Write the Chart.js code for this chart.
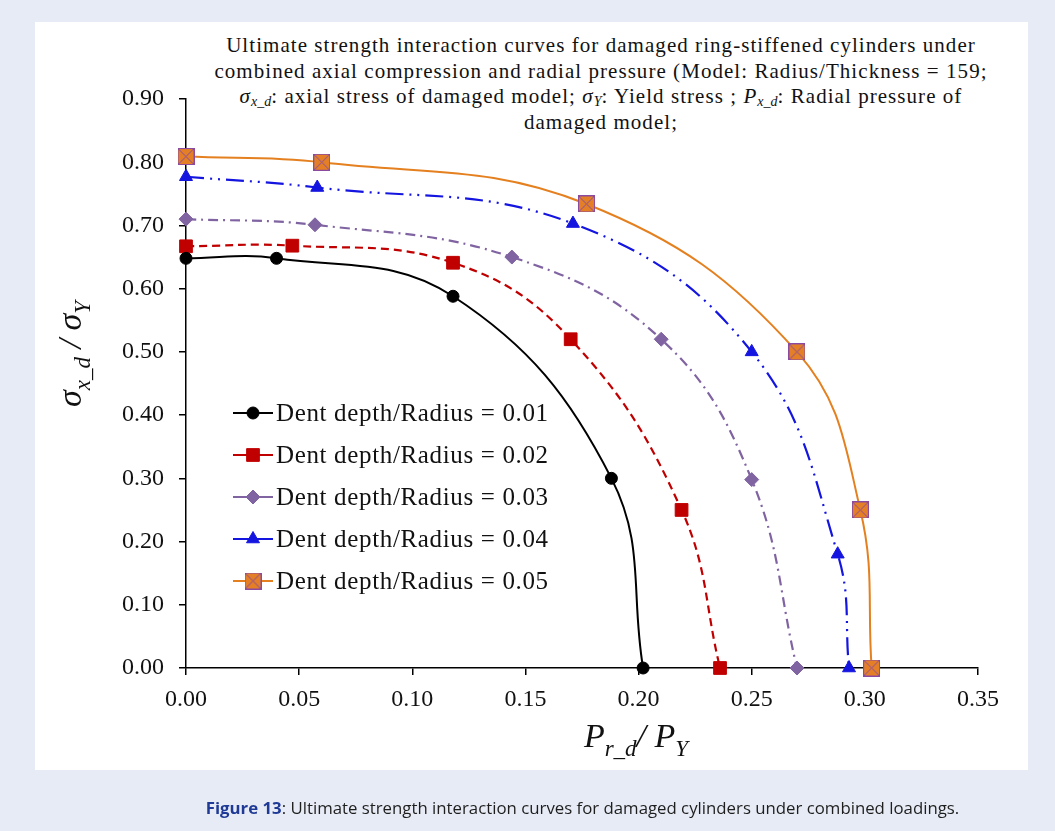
<!DOCTYPE html>
<html>
<head>
<meta charset="utf-8">
<script src="https://cdn.jsdelivr.net/npm/chart.js@4.4.0/dist/chart.umd.min.js"></script>
<style>
body{margin:0;width:1055px;height:831px;background:#e7ebf5;position:relative;overflow:hidden}
#panel{position:absolute;left:35px;top:22px;width:993px;height:748px;background:#fff}
#chart{position:absolute;left:0;top:0}
.serif{font-family:'Liberation Serif','Times New Roman',serif;color:#111}
#title{position:absolute;left:170px;top:33px;width:862px;text-align:center;font-size:21px;line-height:25.5px;letter-spacing:1.05px}
#title sub{font-size:14px;vertical-align:-3px;line-height:0;letter-spacing:0}
#xtitle{position:absolute;left:536px;width:200px;top:717px;text-align:center;font-size:34px;font-style:italic}
#ytitle{position:absolute;left:-30px;top:335px;width:200px;text-align:center;font-size:34px;font-style:italic;transform:rotate(-90deg)}
.ax sub{font-size:23px;vertical-align:-9px;line-height:0}
#caption{position:absolute;left:0;width:1165px;top:796px;text-align:center;font-family:'Open Sans','Noto Sans',sans-serif;font-size:16.8px;color:#1e1e1e}
#caption b{color:#1f3a96;font-weight:700}
</style>
</head>
<body>
<div id="panel"></div>
<div id="title" class="serif">Ultimate strength interaction curves for damaged ring-stiffened cylinders under<br>combined axial compression and radial pressure (Model: Radius/Thickness = 159;<br><i>σ</i><sub><i>x_d</i></sub>: axial stress of damaged model; <i>σ</i><sub><i>Y</i></sub>: Yield stress ; <i>P</i><sub><i>x_d</i></sub>: Radial pressure of<br>damaged model;</div>
<canvas id="chart" width="1055" height="831"></canvas>
<div id="xtitle" class="serif ax">P<sub>r_d</sub>/ P<sub>Y</sub></div>
<div id="ytitle" class="serif ax">σ<sub>x_d</sub> / σ<sub>Y</sub></div>
<div id="caption"><b>Figure 13</b>: Ultimate strength interaction curves for damaged cylinders under combined loadings.</div>
<script>
// series labels
const seriesLabels=['Dent depth/Radius = 0.01','Dent depth/Radius = 0.02','Dent depth/Radius = 0.03','Dent depth/Radius = 0.04','Dent depth/Radius = 0.05']

// Pr_d/PY (x) and sigma_x_d/sigmaY (y)
const px01=[0,0.040,0.118,0.188,0.202]
const sy01=[0.648,0.648,0.588,0.300,0.000]
const px02=[0,0.047,0.118,0.170,0.219,0.236]
const sy02=[0.667,0.668,0.641,0.520,0.250,0.000]
const px03=[0,0.057,0.144,0.210,0.250,0.270]
const sy03=[0.710,0.701,0.650,0.520,0.298,0.000]
const px04=[0,0.058,0.171,0.250,0.288,0.293]
const sy04=[0.777,0.760,0.703,0.500,0.180,0.000]
const px05=[0,0.060,0.177,0.270,0.298,0.303]
const sy05=[0.809,0.800,0.734,0.500,0.250,0.000]

const xTicks=[0,0.05,0.10,0.15,0.20,0.25,0.30,0.35]
const yTicks=[0,0.1,0.2,0.3,0.4,0.5,0.6,0.7,0.8,0.9]

function pts(xs,ys){return xs.map((x,i)=>({x:x,y:ys[i]}))}

function boxCross(){
  const s=17,c=document.createElement('canvas');c.width=s;c.height=s
  const g=c.getContext('2d')
  g.fillStyle='#e47f25';g.fillRect(0,0,s,s)
  g.strokeStyle='#8a4aa0';g.lineWidth=1
  g.strokeRect(0.5,0.5,s-1,s-1)
  g.beginPath();g.moveTo(1,1);g.lineTo(s-1,s-1);g.moveTo(s-1,1);g.lineTo(1,s-1);g.stroke()
  return c
}

const styles=[
  {color:'#000000',dash:[],point:'circle',r:6,w:2},
  {color:'#c00000',dash:[8,5],point:'rect',r:9,w:2.2},
  {color:'#8064a2',dash:[10,5,2,5],point:'rectRot',r:7,w:2.2},
  {color:'#1515e0',dash:[18,6,2,6,2,6],point:'triangle',r:7.5,w:2.2},
  {color:'#e4801f',dash:[],point:boxCross(),r:8,w:2}
]
const seriesX=[px01,px02,px03,px04,px05]
const seriesY=[sy01,sy02,sy03,sy04,sy05]

const datasets=seriesLabels.map((lab,i)=>({
  label:lab,
  data:pts(seriesX[i],seriesY[i]),
  showLine:true,
  tension:0.4,
  borderColor:styles[i].color,
  backgroundColor:styles[i].color,
  borderWidth:styles[i].w,
  borderDash:styles[i].dash,
  pointStyle:styles[i].point,
  pointRadius:styles[i].r,
  pointHoverRadius:styles[i].r,
  pointBorderWidth:1,
  clip:false
}))

const innerLegend={id:'innerLegend',afterDatasetsDraw(chart){
  const {ctx,chartArea}=chart
  const x0=chartArea.left+47,y0=chartArea.top+314,gap=42
  chart.data.datasets.forEach((ds,i)=>{
    const y=y0+i*gap
    ctx.save()
    ctx.strokeStyle=ds.borderColor;ctx.fillStyle=ds.backgroundColor;ctx.lineWidth=2
    ctx.beginPath();ctx.moveTo(x0,y);ctx.lineTo(x0+40,y);ctx.stroke()
    ctx.lineWidth=1
    Chart.helpers.drawPoint(ctx,{pointStyle:ds.pointStyle,radius:ds.pointRadius,borderWidth:1,rotation:0},x0+20,y)
    ctx.fillStyle='#111';ctx.font='25px "Liberation Serif"';ctx.textBaseline='middle';ctx.textAlign='left'
    if('letterSpacing' in ctx){ctx.letterSpacing='0.65px'}
    ctx.fillText(ds.label,x0+43,y+1)
    ctx.restore()
  })
}}

const tickFont={family:'"Liberation Serif"',size:24}
new Chart(document.getElementById('chart'),{
  type:'scatter',
  data:{datasets:datasets},
  options:{
    responsive:false,animation:false,
    layout:{autoPadding:false,padding:{left:0,top:99,right:77,bottom:0}},
    plugins:{legend:{display:false},tooltip:{enabled:false}},
    scales:{
      x:{type:'linear',min:0,max:0.35,
        afterFit(s){s.height=163},
        afterBuildTicks(s){s.ticks=xTicks.map(v=>({value:v}))},
        ticks:{font:tickFont,color:'#111',padding:10,maxRotation:0,callback:v=>v.toFixed(2)},
        grid:{drawOnChartArea:false,color:'#000',lineWidth:1.5,tickLength:7},
        border:{color:'#000',width:1.5}},
      y:{type:'linear',min:0,max:0.9,
        afterFit(s){s.width=186},
        afterBuildTicks(s){s.ticks=yTicks.map(v=>({value:v}))},
        ticks:{font:tickFont,color:'#111',padding:15,callback:v=>v.toFixed(2)},
        grid:{drawOnChartArea:false,color:'#000',lineWidth:1.5,tickLength:7},
        border:{color:'#000',width:1.5}}
    }
  },
  plugins:[innerLegend]
})
</script>
</body>
</html>
